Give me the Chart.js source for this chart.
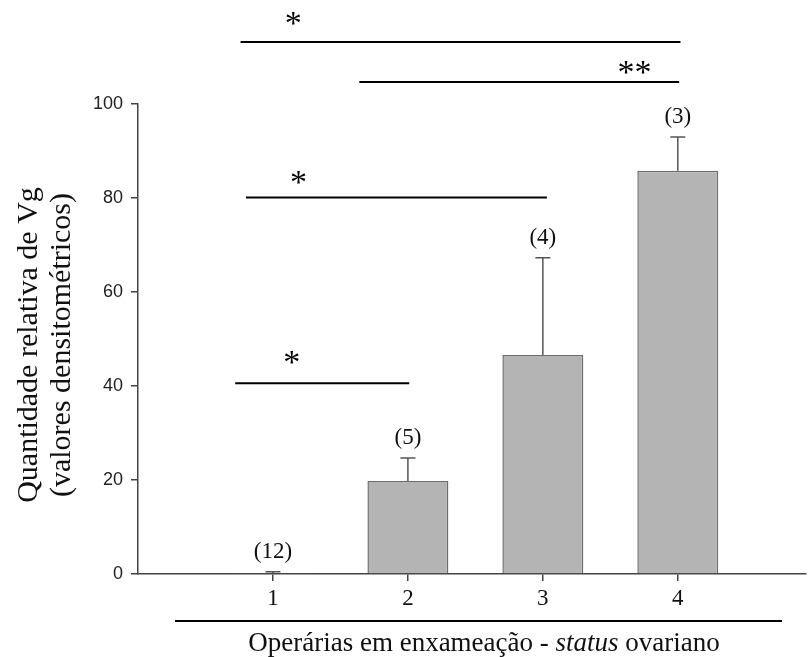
<!DOCTYPE html>
<html>
<head>
<meta charset="utf-8">
<script src="https://cdn.jsdelivr.net/npm/chart.js@4/dist/chart.umd.min.js"></script>
<style>
  body { margin: 0; background: #fff; }
  #wrap { width: 808px; height: 657px; position: relative; }
</style>
</head>
<body>
<div id="wrap"><canvas id="vgChart"></canvas></div>
<script>
// groups on the x axis (ovarian status) and the measured Vg
const groups = [1, 2, 3, 4];
const vgMeans = [0.2, 19.8, 46.6, 85.8];
const vgErrors = [0.3, 4.9, 20.7, 7.2];
const sampleSizes = ['(12)', '(5)', '(4)', '(3)'];
const yTicks = [0, 20, 40, 60, 80, 100];

// significance bars, in data units
const sigFrom = [0.76, 1.64, 0.80, 0.72];
const sigTo = [4.02, 4.01, 3.03, 2.01];
const sigLevel = [113.2, 104.7, 80.1, 40.6];
const sigMarks = ['*', '**', '*', '*'];
const sigMarkX = [1.15, 3.68, 1.19, 1.14];
const sigMarkY = [118.3, 107.9, 84.5, 46.2];

const serif = '"Liberation Serif", "Times New Roman", serif';

// error bars + sample size labels
const errorBars = {
  id: 'errorBars',
  afterDatasetsDraw(chart) {
    const ctx = chart.ctx;
    const xs = chart.scales.x, ys = chart.scales.y;
    ctx.save();
    ctx.strokeStyle = '#555';
    ctx.lineWidth = 1.5;
    for (let i = 0; i < groups.length; i++) {
      const x = xs.getPixelForValue(groups[i]);
      const y0 = ys.getPixelForValue(vgMeans[i]);
      const y1 = ys.getPixelForValue(vgMeans[i] + vgErrors[i]);
      ctx.beginPath();
      ctx.moveTo(x, y0);
      ctx.lineTo(x, y1);
      ctx.moveTo(x - 7.5, y1);
      ctx.lineTo(x + 7.5, y1);
      ctx.stroke();
      ctx.fillStyle = '#111';
      ctx.font = '23px ' + serif;
      ctx.textAlign = 'center';
      ctx.textBaseline = 'middle';
      ctx.fillText(sampleSizes[i], x, y1 - 20);
    }
    ctx.restore();
  }
};

// comparison lines with asterisks
const sigBars = {
  id: 'sigBars',
  afterDraw(chart) {
    const ctx = chart.ctx;
    const xs = chart.scales.x, ys = chart.scales.y;
    ctx.save();
    ctx.strokeStyle = '#000';
    ctx.lineWidth = 2;
    ctx.fillStyle = '#000';
    ctx.font = '34px ' + serif;
    ctx.textAlign = 'center';
    ctx.textBaseline = 'alphabetic';
    for (let i = 0; i < sigLevel.length; i++) {
      const y = ys.getPixelForValue(sigLevel[i]);
      ctx.beginPath();
      ctx.moveTo(xs.getPixelForValue(sigFrom[i]), y);
      ctx.lineTo(xs.getPixelForValue(sigTo[i]), y);
      ctx.stroke();
      ctx.fillText(sigMarks[i], xs.getPixelForValue(sigMarkX[i]), ys.getPixelForValue(sigMarkY[i]) + 16);
    }
    ctx.restore();
  }
};

// axis titles (x title has an italic word and a rule above it)
const titles = {
  id: 'titles',
  afterDraw(chart) {
    const ctx = chart.ctx;
    ctx.save();
    ctx.fillStyle = '#111';
    ctx.translate(0, 345);
    ctx.rotate(-Math.PI / 2);
    ctx.font = '30px ' + serif;
    ctx.textAlign = 'center';
    ctx.textBaseline = 'middle';
    ctx.fillText('Quantidade relativa de Vg', 0, 29);
    ctx.fillText('(valores densitométricos)', 0, 62);
    ctx.restore();

    ctx.save();
    ctx.strokeStyle = '#000';
    ctx.lineWidth = 2;
    ctx.beginPath();
    ctx.moveTo(175, 621);
    ctx.lineTo(782, 621);
    ctx.stroke();
    const parts = [
      ['Operárias em enxameação - ', '27px ' + serif],
      ['status', 'italic 27px ' + serif],
      [' ovariano', '27px ' + serif]
    ];
    let total = 0;
    parts.forEach(p => { ctx.font = p[1]; total += ctx.measureText(p[0]).width; });
    let x = 484 - total / 2;
    ctx.fillStyle = '#111';
    ctx.textBaseline = 'alphabetic';
    parts.forEach(p => {
      ctx.font = p[1];
      ctx.fillText(p[0], x, 651);
      x += ctx.measureText(p[0]).width;
    });
    ctx.restore();
  }
};

new Chart(document.getElementById('vgChart'), {
  type: 'bar',
  data: {
    datasets: [{
      data: groups.map((g, i) => ({ x: g, y: vgMeans[i] })),
      backgroundColor: '#b4b4b4',
      borderColor: '#6e6e6e',
      borderWidth: 1.5,
      barPercentage: 0.6,
      categoryPercentage: 1
    }]
  },
  options: {
    responsive: true,
    maintainAspectRatio: false,
    animation: false,
    layout: { padding: { top: 104, right: 2, left: 0, bottom: 0 } },
    plugins: { legend: { display: false }, tooltip: { enabled: false } },
    scales: {
      x: {
        type: 'linear',
        offset: false,
        min: 0,
        max: 4.95,
        afterBuildTicks: s => { s.ticks = groups.map(v => ({ value: v })); },
        afterFit: s => { s.height = 83; },
        ticks: {
          color: '#111',
          font: { family: serif, size: 23 },
          padding: 4,
          callback: v => String(v)
        },
        grid: { offset: false, drawOnChartArea: false, tickLength: 7, color: '#444', lineWidth: 1.5 },
        border: { color: '#444', width: 1.5 }
      },
      y: {
        min: 0,
        max: 100,
        afterBuildTicks: s => { s.ticks = yTicks.map(v => ({ value: v })); },
        afterFit: s => { s.width = 138; },
        ticks: {
          color: '#222',
          font: { family: '"Liberation Sans", Arial, sans-serif', size: 18 },
          padding: 8
        },
        grid: { drawOnChartArea: false, tickLength: 7, color: '#444', lineWidth: 1.5 },
        border: { color: '#444', width: 1.5 }
      }
    }
  },
  plugins: [errorBars, sigBars, titles]
});
</script>
</body>
</html>
